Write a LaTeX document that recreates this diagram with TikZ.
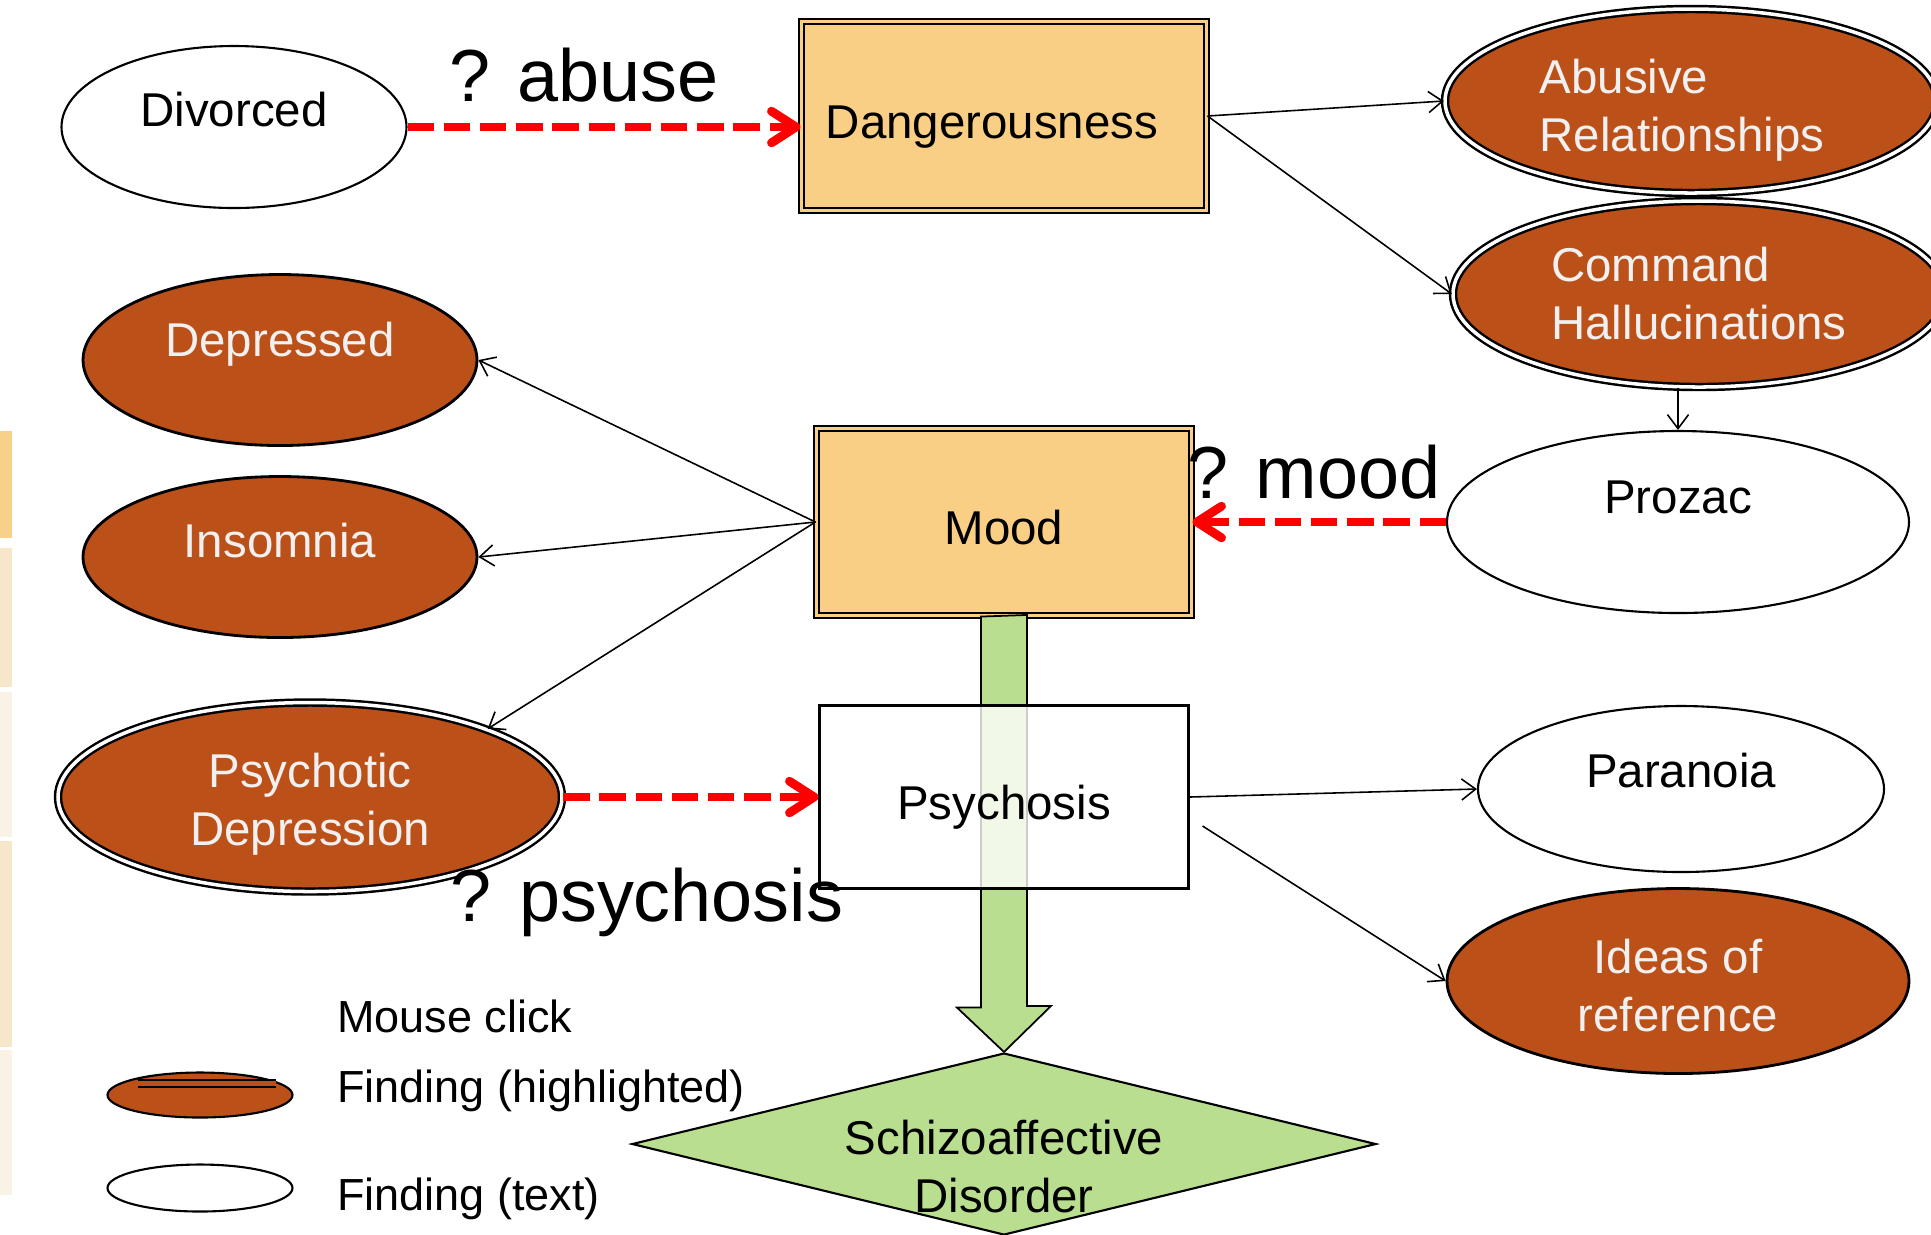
\documentclass[tikz,border=0pt]{standalone}
\usepackage{fontspec}
\setmainfont{Liberation Sans}
\usetikzlibrary{shapes.geometric}
\usetikzlibrary{arrows.meta}

\definecolor{boxorange}{HTML}{F9CF86}
\definecolor{findbrown}{HTML}{BC5019}
\definecolor{findtext}{HTML}{F0F0F0}
\definecolor{diaggreen}{HTML}{B9DE8F}
\definecolor{stripA}{HTML}{F9D08A}
\definecolor{stripB}{HTML}{F8E6CB}
\definecolor{stripC}{HTML}{FBF2E7}

\tikzset{
  concept/.style={rectangle, draw, line width=0.6pt, double=boxorange, double distance=0.9pt, fill=boxorange, inner sep=0pt},
  finding/.style={ellipse, draw, line width=0.6pt, fill=white, inner sep=0pt},
  brownfind/.style={ellipse, draw, line width=0.8pt, fill=findbrown, inner sep=0pt},
  highlit/.style={brownfind, line width=0.7pt, double=white, double distance=1pt},
  lighttext/.style={text=findtext, align=center},
  link/.style={-{Straight Barb[length=4pt,width=6pt]}, line width=0.45pt},
  query/.style={-{Straight Barb[length=7pt,width=9pt,round]}, red, line width=2.5pt, dash pattern=on 7.5pt off 2.8pt},
  asklabel/.style={font=\fontsize{21}{25}\selectfont},
  keytext/.style={anchor=west, font=\fontsize{12.8}{15}\selectfont},
}

\begin{document}
\begin{tikzpicture}[x=1cm, y=-1cm, font=\fontsize{13.5}{16.5}\selectfont]
    \useasboundingbox (0,0) rectangle (19.31,12.34);
    \clip (0,0) rectangle (19.31,12.34);

    \fill[stripA] (0,4.31) rectangle (0.12,5.38);
    \fill[stripB] (0,5.48) rectangle (0.12,6.87);
    \fill[stripC] (0,6.92) rectangle (0.12,8.37);
    \fill[stripB] (0,8.41) rectangle (0.12,10.47);
    \fill[stripC] (0,10.50) rectangle (0.12,11.95);

    \node[finding, minimum width=3.45cm, minimum height=1.62cm,
      label={[yshift=0.17cm]center:Divorced}] (divorced) at (2.34,1.27) {};
    \node[concept, minimum width=4.05cm, minimum height=1.89cm,
      label={[xshift=-0.12cm, yshift=-0.11cm]center:Dangerousness}] (danger) at (10.04,1.16) {};
    \node[highlit, minimum width=4.92cm, minimum height=1.84cm,
      label={[lighttext, align=left, xshift=-0.09cm, yshift=-0.09cm]center:Abusive\\Relationships}] (abusive) at (16.91,1.01) {};
    \node[highlit, minimum width=4.92cm, minimum height=1.86cm,
      label={[lighttext, align=left]center:Command\\Hallucinations}] (command) at (16.99,2.94) {};
    \node[finding, minimum width=4.62cm, minimum height=1.82cm,
      label={[yshift=0.25cm]center:Prozac}] (prozac) at (16.78,5.22) {};

    \node[brownfind, minimum width=3.94cm, minimum height=1.71cm,
      label={[lighttext, yshift=0.16cm]center:Depressed}] (depressed) at (2.80,3.60) {};
    \node[brownfind, minimum width=3.94cm, minimum height=1.61cm,
      label={[lighttext, yshift=0.16cm]center:Insomnia}] (insomnia) at (2.80,5.57) {};
    \node[highlit, minimum width=5.04cm, minimum height=1.89cm,
      label={[lighttext, yshift=-0.07cm]center:Psychotic\\Depression}] (psydep) at (3.10,7.97) {};

    % green arrow first, boxes go over it
    \node[diamond, draw, line width=0.6pt, fill=diaggreen, inner sep=0pt,
      minimum width=7.44cm, minimum height=1.82cm,
      label={[align=center, yshift=-0.23cm]center:Schizoaffective\\Disorder}] (schizo) at (10.04,11.44) {};
    \node[concept, minimum width=3.75cm, minimum height=1.87cm,
      label={[yshift=-0.06cm]center:Mood}] (mood) at (10.04,5.22) {};
    \draw[line width=0.5pt, fill=diaggreen] ([xshift=-0.23cm]mood.south) -- ++(0,3.91) -- ++(-0.24,0)
      -- (schizo.north) -- ++(0.47,-0.46) -- ++(-0.24,0) -- ++(0,-3.91) -- cycle;
    \node[rectangle, draw, line width=0.6pt, fill=white, fill opacity=0.8, text opacity=1,
      minimum width=3.69cm, minimum height=1.83cm,
      label={[yshift=-0.10cm]center:Psychosis}] (psychosis) at (10.04,7.97) {};

    \node[finding, minimum width=4.06cm, minimum height=1.66cm,
      label={[yshift=0.18cm]center:Paranoia}] (paranoia) at (16.81,7.89) {};
    \node[brownfind, minimum width=4.62cm, minimum height=1.85cm,
      label={[lighttext, yshift=-0.05cm]center:Ideas of\\reference}] (ideas) at (16.78,9.81) {};

    \draw[link] (danger.east) -- (abusive.west);
    \draw[link] (danger.east) -- (command.west);
    \draw[link] (prozac.north |- command.south) -- (prozac.north);
    \draw[link] (mood.west) -- (depressed.east);
    \draw[link] (mood.west) -- (insomnia.east);
    \draw[link] (mood.west) -- (psydep.21);
    \draw[link] (psychosis.east) -- (paranoia.west);
    \draw[link] ([shift={(0.13,0.29)}]psychosis.east) -- (ideas.west);

    \draw[query] (divorced.east) -- (divorced.east -| danger.west);
    \draw[query] (prozac.west) -- (mood.east);
    \draw[query] (psydep.east) -- (psychosis.west);

    \node[asklabel] (askabuse) at (5.84,0.75) {? abuse};
    \node[asklabel] (askmood) at (13.14,4.72) {? mood};
    \node[asklabel] (askpsych) at (6.47,9.02) {? psychosis};

    % legend
    \node[brownfind, line width=0.6pt, minimum width=1.85cm, minimum height=0.45cm] (keyhl) at (2.00,10.95) {};
    \draw[line width=0.6pt, double=findbrown, double distance=1.4pt] ([shift={(-0.62,-0.115)}]keyhl.center) -- ++(1.38,0);
    \node[finding, minimum width=1.85cm, minimum height=0.47cm] (keytxt) at (2.00,11.88) {};
    \node[keytext] (keyclick) at (3.25,10.16) {Mouse click};
    \node[keytext] (keyhltext) at (3.25,10.91) {Finding (highlighted)};
    \node[keytext] (keytxttext) at (3.25,11.99) {Finding (text)};
\end{tikzpicture}
\end{document}
